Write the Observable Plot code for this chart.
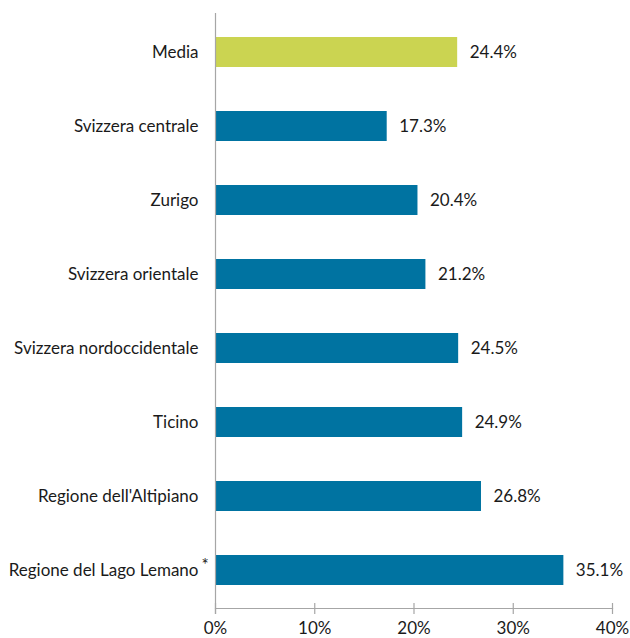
<!DOCTYPE html>
<html>
<head>
<meta charset="utf-8">
<script src="https://cdn.jsdelivr.net/npm/d3@7"></script>
<script src="https://cdn.jsdelivr.net/npm/@observablehq/plot@0.6"></script>
<style>
  html, body { margin: 0; padding: 0; background: #fff; }
  #chart svg { display: block; }
</style>
</head>
<body>
<div id="chart"></div>
<script>
const categories = [
  "Media",
  "Svizzera centrale",
  "Zurigo",
  "Svizzera orientale",
  "Svizzera nordoccidentale",
  "Ticino",
  "Regione dell'Altipiano",
  "Regione del Lago Lemano"
];
const values = [24.4, 17.3, 20.4, 21.2, 24.5, 24.9, 26.8, 35.1];
const highlight = ["Media"];
const footnoted = ["Regione del Lago Lemano"];
const xTicks = [0, 10, 20, 30, 40];

const data = categories.map((c, i) => ({category: c, value: values[i]}));
const font = "Lato, 'Open Sans', sans-serif";
const axisColor = "#a6a6a6";
const fs = 17;

const chart = Plot.plot({
  width: 630,
  height: 638,
  marginLeft: 215,
  marginRight: 18,
  marginTop: 13,
  marginBottom: 30,
  style: {fontFamily: font, fontSize: fs + "px", color: "#1a1a1a", background: "#fff"},
  x: {domain: [0, 40], axis: null, label: null},
  y: {domain: categories, paddingInner: 0.6, paddingOuter: 0.3, axis: null, label: null},
  marks: [
    Plot.barX(data, {
      x: "value",
      y: "category",
      fill: d => highlight.includes(d.category) ? "#cbd451" : "#0073a1"
    }),
    Plot.frame({anchor: "bottom", stroke: axisColor, strokeWidth: 1.2}),
    Plot.ruleX([0], {stroke: axisColor, strokeWidth: 1.2, insetBottom: -6}),
    Plot.axisX({ticks: xTicks, tickSize: 11, dy: -5, tickFormat: () => "", label: null, stroke: axisColor, strokeWidth: 1.2}),
    Plot.axisX({ticks: xTicks, tickSize: 0, tickPadding: 13, tickFormat: d => d + "%", label: null, fontSize: fs, fill: "#1a1a1a"}),
    Plot.axisY({tickSize: 0, tickPadding: 17, label: null, fontSize: fs, fill: "#1a1a1a"}),
    Plot.text(footnoted, {x: () => 0, y: d => d, text: () => "*", dx: -14, dy: -5, textAnchor: "start", fontSize: fs, fill: "#1a1a1a"}),
    Plot.text(data, {
      x: "value",
      y: "category",
      text: d => d.value.toFixed(1) + "%",
      dx: 12,
      textAnchor: "start",
      fontSize: fs,
      fill: "#1a1a1a"
    })
  ]
});
document.getElementById("chart").append(chart);
</script>
</body>
</html>
